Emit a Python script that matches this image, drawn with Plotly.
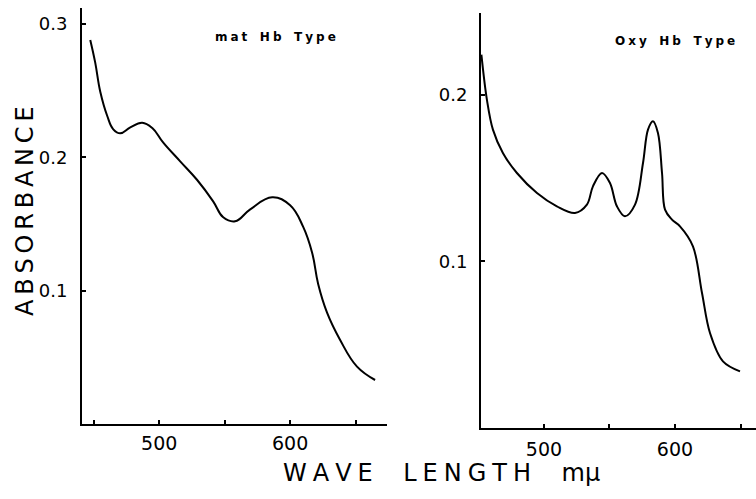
import plotly.graph_objects as go

# Absorption spectra: methaemoglobin type (left) and oxyhaemoglobin type (right)
met_wavelength = [447.3, 451.1, 455.0, 460.3, 464.9, 470.2, 477.9, 487.0, 494.7, 503.1,
                  516.0, 529.0, 541.2, 548.9, 558.0, 569.5, 586.3, 600.0, 609.9, 616.8,
                  621.4, 628.2, 638.2, 651.1, 664.9]
met_absorbance = [0.288, 0.271, 0.249, 0.231, 0.221, 0.218, 0.2225, 0.226, 0.222, 0.211,
                  0.197, 0.183, 0.167, 0.155, 0.152, 0.161, 0.170, 0.164, 0.148, 0.1285,
                  0.105, 0.0835, 0.063, 0.043, 0.033]

oxy_wavelength = [452.3, 456.5, 461.1, 468.7, 479.4, 494.7, 509.9, 523.7, 532.8, 537.4,
                  544.3, 550.4, 555.7, 561.8, 569.5, 575.6, 579.4, 583.2, 587.0, 590.1,
                  592.4, 597.7, 603.8, 613.7, 620.6, 626.7, 636.6, 649.6]
oxy_absorbance = [0.224, 0.197, 0.179, 0.165, 0.153, 0.141, 0.133, 0.129, 0.134, 0.145,
                  0.153, 0.147, 0.133, 0.127, 0.134, 0.159, 0.179, 0.184, 0.177, 0.153,
                  0.131, 0.125, 0.121, 0.109, 0.081, 0.057, 0.040, 0.034]

x_tick_vals = [450, 500, 550, 600, 650]
x_tick_text = ["", "500", "", "600", ""]
met_y_ticks = [0.1, 0.2, 0.3]
oxy_y_ticks = [0.1, 0.2]

W, H = 756, 499
FONT = "DejaVu Sans"

fig = go.Figure()
fig.add_trace(go.Scatter(x=met_wavelength, y=met_absorbance, mode="lines",
                         line=dict(color="black", width=2, shape="spline", smoothing=1.2),
                         xaxis="x", yaxis="y", showlegend=False))
fig.add_trace(go.Scatter(x=oxy_wavelength, y=oxy_absorbance, mode="lines",
                         line=dict(color="black", width=2, shape="spline", smoothing=1.0),
                         xaxis="x2", yaxis="y2", showlegend=False))

axis_common = dict(showline=True, linecolor="black", linewidth=2, showgrid=False,
                   zeroline=False, ticks="inside", tickcolor="black", tickwidth=1.5,
                   ticklen=4, tickfont=dict(family=FONT, size=19, color="black"))
y_font = dict(family=FONT, size=18, color="black")

fig.update_layout(
    width=W, height=H,
    margin=dict(l=0, r=0, t=0, b=0),
    paper_bgcolor="white", plot_bgcolor="white",
    xaxis=dict(domain=[82 / W, 387 / W], range=[441, 674], anchor="y",
               tickvals=x_tick_vals, ticktext=x_tick_text, ticklabelstandoff=1,
               **axis_common),
    yaxis=dict(domain=[1 - 424 / H, 1 - 8 / H], range=[0, 0.312], anchor="x",
               tickvals=met_y_ticks, ticktext=["0.1", "0.2", "0.3"], ticklabelstandoff=9,
               **{**axis_common, "tickfont": y_font}),
    xaxis2=dict(domain=[481 / W, 1.0], range=[452, 661.8], anchor="y2",
                tickvals=x_tick_vals, ticktext=x_tick_text, ticklabelstandoff=3,
                **axis_common),
    yaxis2=dict(domain=[1 - 428 / H, 1 - 13 / H], range=[0, 0.249], anchor="x2",
                tickvals=oxy_y_ticks, ticktext=["0.1", "0.2"], ticklabelstandoff=8,
                **{**axis_common, "tickfont": y_font}),
)

T = "\u2009"
S = "\u2005"
annotations = [
    dict(text=T.join("ABSORBANCE"), x=25 / W, y=1 - 211 / H, textangle=-90,
         font=dict(family=FONT, size=24, color="black")),
    dict(text=S.join("WAVE") + "    " + S.join("LENGTH") + "    m\u03bc",
         x=441 / W, y=1 - 473 / H,
         font=dict(family=FONT, size=24, color="black")),
    dict(text="<b>" + S.join("mat") + "   " + S.join("Hb") + "   " + S.join("Type") + "</b>",
         x=275 / W, y=1 - 37 / H,
         font=dict(family=FONT, size=12, color="black")),
    dict(text="<b>" + S.join("Oxy") + "   " + S.join("Hb") + "   " + S.join("Type") + "</b>",
         x=675 / W, y=1 - 41 / H,
         font=dict(family=FONT, size=12, color="black")),
]
for a in annotations:
    a.update(xref="paper", yref="paper", showarrow=False, xanchor="center", yanchor="middle")
fig.update_layout(annotations=annotations)

fig.write_html("out.html")
